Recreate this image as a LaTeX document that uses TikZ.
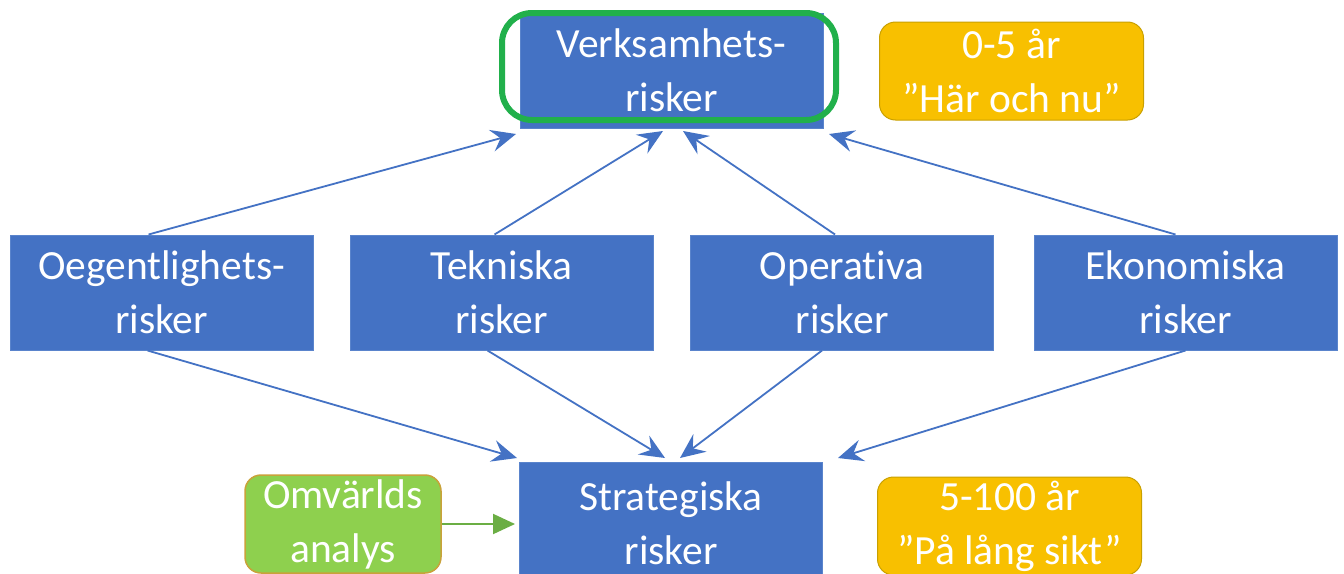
\documentclass[tikz,border=0pt]{standalone}
\usepackage{fontspec}
\setmainfont[RawFeature={-liga;-clig;-calt}]{Carlito}
\usetikzlibrary{arrows.meta}
\definecolor{boxblue}{HTML}{4472C4}
\definecolor{boxedge}{HTML}{5A84CC}
\definecolor{arrblue}{HTML}{4472C4}
\definecolor{gold}{HTML}{F8C000}
\definecolor{goldedge}{HTML}{C9A000}
\definecolor{lgreen}{HTML}{8ED04E}
\definecolor{lgreenedge}{HTML}{C9A23A}
\definecolor{frame}{HTML}{21B04B}
\definecolor{garrow}{HTML}{6BAE44}
\tikzset{
  lbl/.style={text=white, font=\fontsize{41.5}{54}\selectfont, align=center, inner sep=0pt},
  bluebox/.style={lbl, fill=boxblue, draw=boxedge, line width=1pt, minimum width=303pt, minimum height=115pt},
  goldbox/.style={lbl, fill=gold, draw=goldedge, line width=1pt, rounded corners=16pt, minimum width=264pt, minimum height=98pt},
  greenbox/.style={lbl, fill=lgreen, draw=lgreenedge, line width=1.5pt, rounded corners=16pt, minimum width=196pt, minimum height=98pt},
  conn/.style={draw=arrblue, line width=1.8pt, -{Stealth[length=25pt,width=22pt,inset=9pt]}},
}
\begin{document}
\begin{tikzpicture}[x=1pt,y=-1pt]
\clip (0,0) rectangle (1344,573);
\fill[white] (0,0) rectangle (1344,573);

\node[bluebox, minimum height=115pt] (verk) at (671.5,70.5) {Verksamhets-\\risker};
\draw[frame, line width=6pt, rounded corners=30pt] (502,13) rectangle (836,120);
\node[goldbox] (now) at (1011.5,71) {0-5 år\\”Här och nu”};

\node[bluebox] (oeg) at (161.5,292.5) {Oegentlighets-\\risker};
\node[bluebox] (tek) at (501.5,292.5) {Tekniska\\risker};
\node[bluebox] (ope) at (842,292.5) {Operativa\\risker};
\node[bluebox] (eko) at (1185.5,292.5) {Ekonomiska\\risker};

\node[bluebox, minimum height=122pt] (str) at (671,523) {Strategiska\\risker};
\node[greenbox] (omv) at (343,524) {Omvärlds\\analys};
\node[goldbox] (long) at (1009.5,526) {5-100 år\\”På lång sikt”};

\coordinate (t1) at (516,134);
\coordinate (t2) at (663,131);
\coordinate (t3) at (683,131);
\coordinate (t4) at (829,134);
\coordinate (b1) at (517,458);
\coordinate (b2) at (665,458);
\coordinate (b3) at (680,458);
\coordinate (b4) at (838,458);

\draw[conn] ([xshift=-13pt]oeg.north) -- (t1);
\draw[conn] ([xshift=-7pt]tek.north) -- (t2);
\draw[conn] ([xshift=-7pt]ope.north) -- (t3);
\draw[conn] ([xshift=-10pt]eko.north) -- (t4);

\draw[conn] ([xshift=-14pt]oeg.south) -- (b1);
\draw[conn] ([xshift=-14pt]tek.south) -- (b2);
\draw[conn] ([xshift=-20pt]ope.south) -- (b3);
\draw[conn] ([xshift=0pt]eko.south) -- (b4);

\draw[garrow, line width=2pt, -{Triangle[length=22pt,width=20pt]}] (omv.east) -- ([xshift=-4pt]str.west |- omv.east);
\end{tikzpicture}
\end{document}
